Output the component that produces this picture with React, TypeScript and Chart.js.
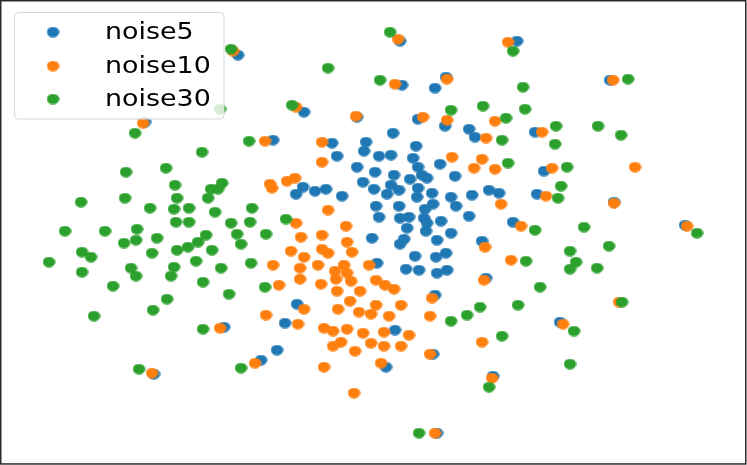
import React, { useEffect, useRef } from "react";
import { Chart, registerables } from "chart.js";

Chart.register(...registerables);

const seriesNames = ["noise5", "noise10", "noise30"];
const seriesColors = ["#1f77b4", "#ff7f0e", "#2ca02c"];

// Embedding coordinates (x, y); y grows downward.
const noise5Points: [number, number][] = [
  [145, 122], [238, 55], [304, 112], [357, 117], [273, 140], [332, 143], [366, 142], [364, 151],
  [337, 156], [416, 146], [393, 133], [400, 41], [517, 41], [402, 85], [435, 88], [446, 77],
  [418, 119], [445, 126], [469, 129], [475, 137], [535, 132], [610, 80],
  [357, 167], [303, 187], [296, 194], [315, 191], [326, 189], [342, 196], [363, 182],
  [379, 156], [391, 155], [413, 158], [440, 164], [418, 167], [394, 175], [422, 175], [427, 178],
  [410, 179], [455, 176], [375, 172], [374, 189], [391, 185], [399, 190], [418, 188], [387, 194],
  [432, 193], [417, 197], [451, 197], [472, 195], [489, 190], [499, 193], [537, 194], [376, 206],
  [399, 206], [433, 204], [425, 209], [456, 206], [379, 217], [400, 218], [409, 217], [424, 218],
  [427, 223], [441, 221], [469, 216], [407, 228], [426, 231], [451, 233], [372, 238], [513, 222],
  [404, 239], [400, 244], [437, 240], [482, 241], [415, 256], [436, 257], [446, 253], [377, 263],
  [406, 269], [419, 270], [437, 273], [447, 270], [486, 278], [435, 295], [544, 171],
  [614, 202], [685, 225], [154, 374], [224, 327], [285, 323], [277, 350], [261, 360], [395, 330],
  [433, 354], [386, 367], [493, 376], [437, 433], [560, 322], [297, 304],
];

const noise10Points: [number, number][] = [
  [143, 123], [233, 51], [296, 107], [356, 116], [265, 141], [322, 142], [398, 39], [508, 42],
  [395, 84], [447, 79], [423, 117], [447, 120], [495, 121], [486, 138], [542, 132], [452, 157],
  [482, 159], [613, 80],
  [322, 162], [270, 184], [272, 188], [287, 181], [295, 178], [296, 223], [328, 210], [346, 226],
  [301, 237], [322, 235], [322, 249], [328, 253], [347, 242], [291, 251], [352, 252], [304, 257],
  [273, 265], [300, 268], [318, 265], [344, 265], [335, 271], [347, 273], [369, 265], [300, 279],
  [336, 279], [351, 281], [376, 280], [279, 285], [321, 284], [337, 291], [360, 291], [350, 301],
  [304, 309], [338, 309], [359, 312], [371, 314], [266, 315],
  [474, 168], [495, 169], [552, 168], [501, 204], [546, 196], [521, 226], [485, 247], [511, 260],
  [484, 280], [385, 285], [394, 289], [432, 298], [376, 305], [401, 305], [430, 316], [389, 316],
  [635, 167], [614, 203], [687, 226], [619, 302],
  [152, 373], [220, 328], [298, 324], [324, 328], [333, 331], [347, 329], [363, 333], [333, 346],
  [341, 342], [355, 351], [371, 343], [255, 363], [324, 367], [354, 393],
  [384, 332], [409, 335], [384, 346], [401, 346], [430, 354], [482, 342], [381, 363], [492, 378],
  [435, 433], [563, 324],
];

const noise30Points: [number, number][] = [
  [135, 133], [231, 49], [328, 68], [220, 109], [292, 105], [249, 141], [202, 152], [390, 32],
  [513, 51], [380, 80], [523, 87], [451, 110], [483, 106], [525, 109], [506, 118], [502, 140],
  [556, 126], [555, 144], [628, 79], [598, 126], [621, 135],
  [126, 172], [166, 168], [175, 185], [81, 202], [125, 198], [177, 198], [150, 208], [174, 209],
  [189, 208], [65, 231], [105, 231], [137, 229], [176, 222], [189, 222], [157, 238], [124, 243],
  [136, 240], [82, 252], [91, 257], [49, 262], [152, 253], [177, 250], [188, 247], [82, 272],
  [131, 268], [136, 276], [174, 267], [171, 276], [113, 286], [167, 299], [153, 310], [94, 316],
  [222, 183], [218, 189], [211, 189], [208, 198], [215, 212], [252, 208], [231, 223], [250, 222],
  [286, 219], [206, 235], [237, 234], [266, 234], [198, 242], [212, 250], [241, 244], [196, 261],
  [221, 268], [251, 263], [203, 282], [265, 287], [229, 294],
  [508, 163], [535, 230], [526, 261], [540, 287], [480, 307], [518, 305], [467, 315], [558, 198],
  [567, 167], [561, 186], [697, 233], [584, 227], [570, 251], [609, 246], [576, 262], [570, 269],
  [597, 268], [622, 302],
  [139, 369], [203, 329], [241, 368],
  [451, 321], [502, 336], [489, 387], [419, 433], [574, 331], [570, 364],
];

const allSeries = [noise5Points, noise10Points, noise30Points];

function makeEllipse(color: string): HTMLCanvasElement {
  const c = document.createElement("canvas");
  c.width = 13;
  c.height = 11;
  const ctx = c.getContext("2d")!;
  ctx.fillStyle = color;
  ctx.beginPath();
  ctx.ellipse(6.5, 5.5, 6.2, 5.2, 0, 0, Math.PI * 2);
  ctx.fill();
  return c;
}

const W = 747;
const H = 465;

export default function App() {
  const ref = useRef<HTMLCanvasElement | null>(null);

  useEffect(() => {
    const canvas = ref.current;
    if (!canvas) return;
    const markers = seriesColors.map((c) => makeEllipse(c));

    const framePlugin = {
      id: "frameAndLegend",
      afterDraw(chart: any) {
        const ctx = chart.ctx as CanvasRenderingContext2D;
        ctx.save();
        // legend box
        const bx = 14.5, by = 12.5, bw = 209.5, bh = 106.5, r = 4;
        ctx.beginPath();
        ctx.moveTo(bx + r, by);
        ctx.lineTo(bx + bw - r, by);
        ctx.quadraticCurveTo(bx + bw, by, bx + bw, by + r);
        ctx.lineTo(bx + bw, by + bh - r);
        ctx.quadraticCurveTo(bx + bw, by + bh, bx + bw - r, by + bh);
        ctx.lineTo(bx + r, by + bh);
        ctx.quadraticCurveTo(bx, by + bh, bx, by + bh - r);
        ctx.lineTo(bx, by + r);
        ctx.quadraticCurveTo(bx, by, bx + r, by);
        ctx.closePath();
        ctx.fillStyle = "rgba(255,255,255,0.8)";
        ctx.fill();
        ctx.strokeStyle = "#d6d6d6";
        ctx.lineWidth = 1;
        ctx.stroke();

        const rowsY = [32, 66, 99];
        ctx.font = '23px "DejaVu Sans"';
        ctx.fillStyle = "#000";
        ctx.textBaseline = "alphabetic";
        seriesNames.forEach((name, i) => {
          const m = markers[i];
          ctx.drawImage(m, 53 - m.width / 2, rowsY[i] - m.height / 2);
          ctx.save();
          ctx.translate(105, rowsY[i] + 7);
          ctx.scale(1.17, 1);
          ctx.fillText(name, 0, 0);
          ctx.restore();
        });

        // axes frame
        ctx.strokeStyle = "#2a2a2a";
        ctx.lineWidth = 1.5;
        ctx.strokeRect(0.75, 0.75, 745, 463.2);
        ctx.restore();
      },
    };

    const chart = new Chart(canvas, {
      type: "scatter",
      data: {
        datasets: allSeries.map((pts, i) => ({
          label: seriesNames[i],
          data: pts.map(([x, y]) => ({ x, y })),
          pointStyle: markers[i] as any,
          backgroundColor: seriesColors[i],
          borderColor: seriesColors[i],
          order: 3 - i,
        })),
      },
      options: {
        responsive: false,
        animation: false,
        devicePixelRatio: 1,
        events: [],
        layout: { padding: 0, autoPadding: false },
        clip: false as any,
        scales: {
          x: { type: "linear", min: 0, max: W, display: false },
          y: { type: "linear", min: 0, max: H, reverse: true, display: false },
        },
        plugins: {
          legend: { display: false },
          tooltip: { enabled: false },
        },
      },
      plugins: [framePlugin],
    });
    return () => chart.destroy();
  }, []);

  return (
    <div style={{ position: "fixed", left: 0, top: 0, width: W, height: H, background: "#fff" }}>
      <canvas ref={ref} width={W} height={H} style={{ display: "block", width: W, height: H }} />
    </div>
  );
}
